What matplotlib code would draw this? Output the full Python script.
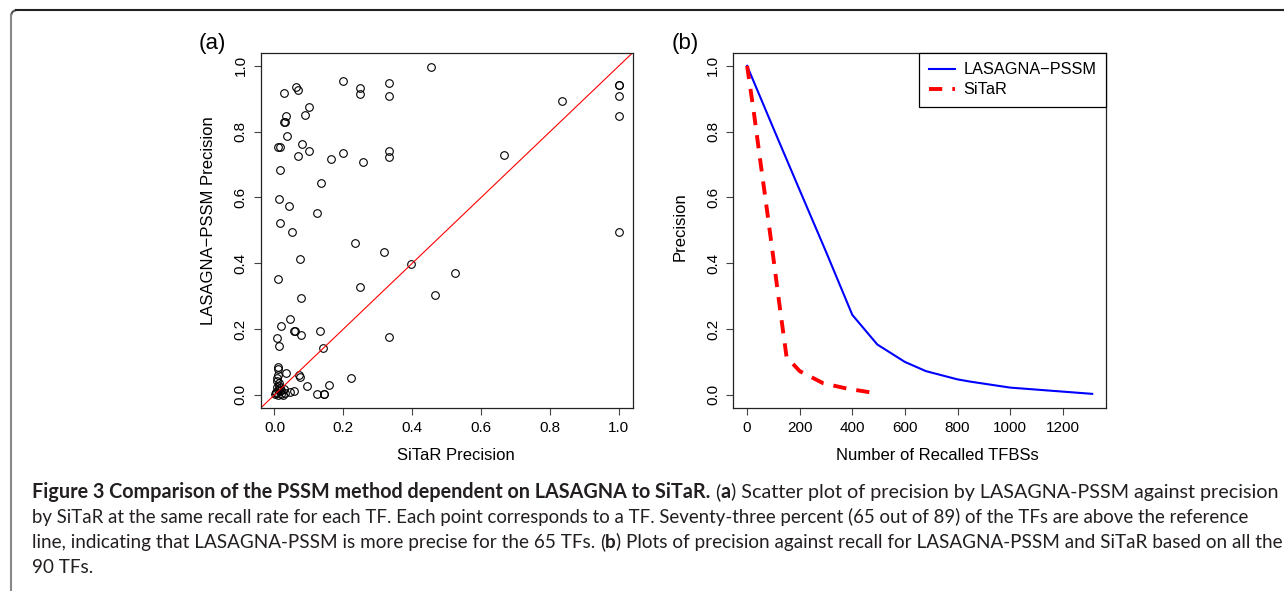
import numpy as np
import matplotlib
matplotlib.use("Agg")
import matplotlib.pyplot as plt
from matplotlib.lines import Line2D
from matplotlib.patches import Arc

W, H = 1284, 591

# panel (a): precision per TF, SiTaR (x) vs LASAGNA-PSSM (y)
sitar_prec = [0.453, 0.199, 0.249, 0.249, 0.333, 0.333, 0.062, 0.069, 0.029, 0.099,
              0.090, 0.034, 0.029, 0.031, 0.035, 0.010, 0.016, 0.081, 0.100, 0.068,
              0.199, 0.165, 0.258, 0.333, 0.333, 0.015, 0.134, 0.013, 0.042, 0.124,
              0.015, 0.050, 0.233, 0.317, 0.397, 0.075, 0.011, 0.249, 0.466, 0.077,
              0.046, 0.019, 0.058, 0.061, 0.132, 0.076, 0.333, 0.006, 0.012, 0.141,
              0.011, 0.011, 0.011, 0.033, 0.070, 0.074, 0.221, 0.008, 0.012, 0.006,
              0.017, 0.009, 0.005, 0.015, 0.002, 0.024, 0.031, 0.045, 0.058, 0.095,
              0.124, 0.143, 0.145, 0.157, 1.000, 1.000, 1.000, 1.000, 0.834, 0.667,
              1.000, 0.523, 0.008, 0.013, 0.020, 0.004, 0.027, 0.018, 0.010]
lasagna_prec = [0.998, 0.954, 0.933, 0.914, 0.949, 0.909, 0.936, 0.927, 0.918, 0.874,
                0.852, 0.849, 0.829, 0.829, 0.786, 0.754, 0.754, 0.762, 0.740, 0.727,
                0.734, 0.716, 0.707, 0.740, 0.722, 0.683, 0.644, 0.596, 0.573, 0.552,
                0.523, 0.495, 0.461, 0.433, 0.397, 0.412, 0.352, 0.328, 0.303, 0.295,
                0.230, 0.208, 0.195, 0.194, 0.195, 0.181, 0.177, 0.172, 0.149, 0.143,
                0.085, 0.078, 0.061, 0.065, 0.061, 0.055, 0.050, 0.043, 0.035, 0.024,
                0.022, 0.014, 0.010, 0.012, 0.002, 0.000, 0.005, 0.008, 0.013, 0.028,
                0.002, 0.002, 0.003, 0.030, 0.943, 0.941, 0.908, 0.847, 0.892, 0.729,
                0.496, 0.371, 0.050, 0.028, 0.015, 0.006, 0.018, 0.004, 0.000]

# panel (b): precision vs number of recalled TFBSs
lasagna_n = [0, 100, 200, 300, 400, 495, 600, 680, 800, 850, 1000, 1312]
lasagna_p = [1.0, 0.81, 0.622, 0.435, 0.243, 0.153, 0.100, 0.072, 0.047, 0.040, 0.022, 0.003]
sitar_n = [0, 25, 50, 75, 100, 125, 150, 200, 290, 380, 465]
sitar_p = [1.0, 0.862, 0.712, 0.565, 0.415, 0.262, 0.115, 0.072, 0.035, 0.019, 0.008]

caption_lines = [
    [("Figure 3 Comparison of the PSSM method dependent on LASAGNA to SiTaR.", "bold", True),
     ("(", "normal", False), ("a", "bold", False),
     (") Scatter plot of precision by LASAGNA-PSSM against precision", "normal", False)],
    [("by SiTaR at the same recall rate for each TF. Each point corresponds to a TF. "
      "Seventy-three percent (65 out of 89) of the TFs are above the reference", "normal", False)],
    [("line, indicating that LASAGNA-PSSM is more precise for the 65 TFs.", "normal", True),
     ("(", "normal", False), ("b", "bold", False),
     (") Plots of precision against recall for LASAGNA-PSSM and SiTaR based on all the", "normal", False)],
    [("90 TFs.", "normal", False)],
]
# right end of each caption line in the reference (px); None = use the previous size
caption_ends = [1278, 1251, 1281, None]

plot_font = ["Liberation Sans", "DejaVu Sans"]
cap_font = ["Lato", "DejaVu Sans"]
plt.rcParams["font.family"] = plot_font


def fx(px):
    return px / W


def fy(py):
    return 1 - py / H


fig = plt.figure(figsize=(W / 100, H / 100), dpi=100)


def style_axes(ax):
    for s in ax.spines.values():
        s.set_color("#222222")
        s.set_linewidth(0.9)
    ax.tick_params(direction="out", length=5, width=0.8, color="#444444",
                   labelsize=11, pad=4.5)
    ax.tick_params(axis="y", labelrotation=90)
    for lab in ax.get_yticklabels():
        lab.set_va("center")


# ---- panel (a)
ax1 = fig.add_axes([fx(260.7), fy(408), (632.7 - 260.7) / W, (408 - 52.7) / H])
ax1.plot(sitar_prec, lasagna_prec, "o", mfc="none", mec="black", ms=5.5, mew=0.8)
ax1.plot([-0.1, 1.1], [-0.1, 1.1], color="red", lw=0.8)
ax1.set_xlim(-0.04, 1.04)
ax1.set_ylim(-0.04, 1.04)
ax1.set_xticks(np.arange(0, 1.01, 0.2))
ax1.set_yticks(np.arange(0, 1.01, 0.2))
ax1.set_xticklabels(["%.1f" % v for v in np.arange(0, 1.01, 0.2)])
ax1.set_yticklabels(["%.1f" % v for v in np.arange(0, 1.01, 0.2)])
style_axes(ax1)
ax1.set_xlabel("SiTaR Precision", fontsize=12)
ax1.set_ylabel("LASAGNA\u2212PSSM Precision", fontsize=12)
ax1.xaxis.set_label_coords(0.525, -0.113)
ax1.yaxis.set_label_coords(-0.121, 0.527)

# ---- panel (b)
ax2 = fig.add_axes([fx(733.3), fy(408), (1106 - 733.3) / W, (408 - 52.7) / H])
ax2.plot(lasagna_n, lasagna_p, color="blue", lw=1.5, label="LASAGNA\u2212PSSM")
ax2.plot(sitar_n, sitar_p, color="red", lw=2.8, dashes=(3.4, 2.6), label="SiTaR")
ax2.set_xlim(-52.5, 1364.5)
ax2.set_ylim(-0.04, 1.04)
ax2.set_xticks(range(0, 1201, 200))
ax2.set_yticks(np.arange(0, 1.01, 0.2))
ax2.set_yticklabels(["%.1f" % v for v in np.arange(0, 1.01, 0.2)])
style_axes(ax2)
ax2.set_xlabel("Number of Recalled TFBSs", fontsize=12)
ax2.set_ylabel("Precision", fontsize=12)
ax2.xaxis.set_label_coords(0.547, -0.113)
ax2.yaxis.set_label_coords(-0.122, 0.51)
leg = ax2.legend(loc="upper right", borderaxespad=0, fancybox=False, framealpha=1,
                 edgecolor="black", fontsize=11.7, handlelength=1.6, handletextpad=0.5,
                 borderpad=0.6, labelspacing=0.3)
leg.get_frame().set_linewidth(0.9)

fig.text(fx(212), fy(44), "(a)", fontsize=16, ha="center", va="center")
fig.text(fx(685), fy(43), "(b)", fontsize=16, ha="center", va="center")

# ---- outer frame (rounded top-left corner)
r = 5
fig.add_artist(Line2D([fx(11.3), fx(11.3)], [fy(600), fy(10.3 + r)], color="#888888", lw=1.5))
fig.add_artist(Line2D([fx(11.3 + r), fx(1290)], [fy(10.3), fy(10.3)], color="#222222", lw=1.5))
fig.add_artist(Arc((fx(11.3 + r), fy(10.3 + r)), 2 * r / W, 2 * r / H, theta1=90, theta2=180,
                   transform=fig.transFigure, color="#555555", lw=1.5))

# ---- caption, drawn run by run
renderer = fig.canvas.get_renderer()


def text_width(s, size, weight):
    t = fig.text(0, 0, s, fontsize=size, fontweight=weight, family=cap_font)
    w = t.get_window_extent(renderer).width
    t.remove()
    return w


def space_width(size):
    return text_width("x x", size, "normal") - text_width("xx", size, "normal")


def line_width(runs, size):
    total = 0
    for s, weight, space in runs:
        total += text_width(s, size, weight)
        if space:
            total += space_width(size)
    return total


x0 = 32
base = 10.0
baselines = [498, 523, 548, 573]
cap_size = base
for runs, yb, xend in zip(caption_lines, baselines, caption_ends):
    if xend is not None:
        cap_size = base * (xend - x0) / line_width(runs, base)
    x = x0
    for s, weight, space in runs:
        fig.text(fx(x), fy(yb), s, fontsize=cap_size, fontweight=weight, family=cap_font,
                 va="baseline", ha="left", color="#231f20")
        x += text_width(s, cap_size, weight)
        if space:
            x += space_width(cap_size)

fig.savefig("out.png", dpi=100)
